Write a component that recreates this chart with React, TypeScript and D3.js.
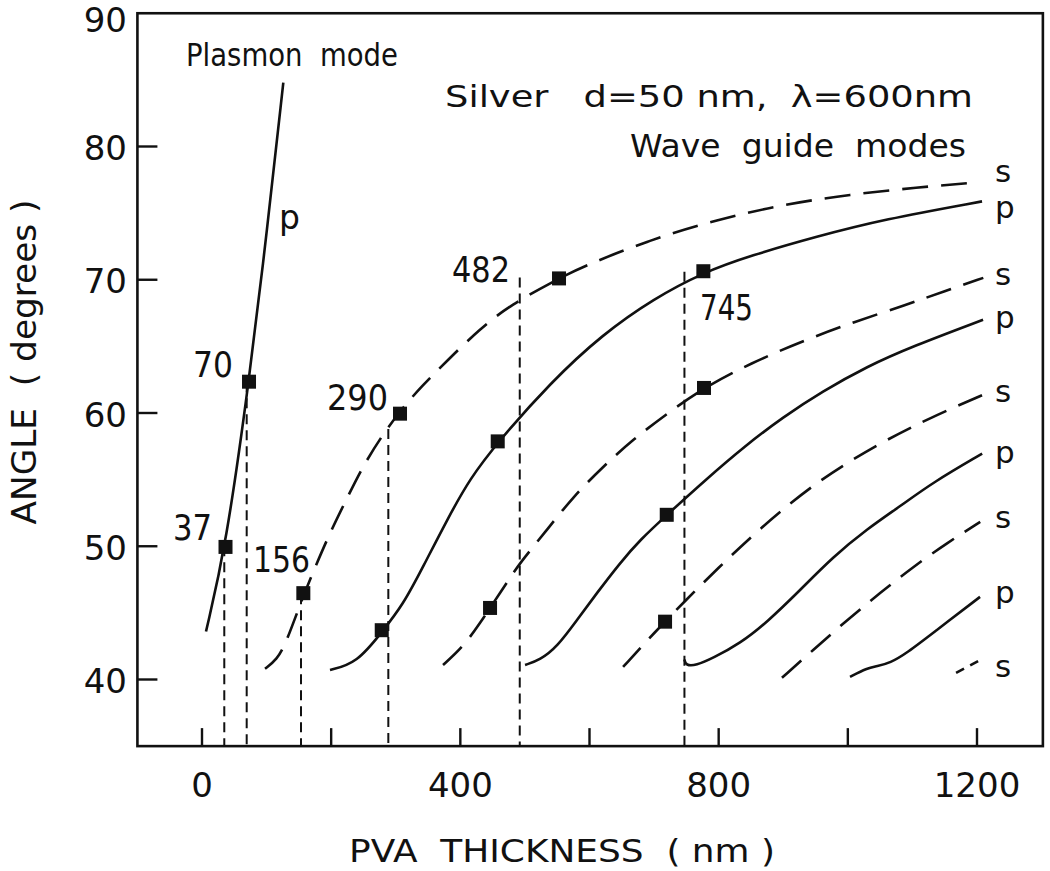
import React from 'react';
import * as d3 from 'd3';

type Pt = [number, number];

// ---- axes ----
const xTicks = [0, 200, 400, 600, 800, 1000, 1200];
const xTickLabels = [0, 400, 800, 1200];
const yTicks = [40, 50, 60, 70, 80];
const yTickLabels = [40, 50, 60, 70, 80, 90];
const xTitle = 'PVA  THICKNESS  ( nm )';
const yTitle = 'ANGLE  ( degrees )';

// ---- curves: [thickness nm, angle deg] ----
const plasmonP: Pt[] = [[6.2, 43.6], [37, 50.0], [72.8, 62.35], [100, 73.4], [125.9, 84.8]];

const s1: Pt[] = [[97.6, 40.8], [116, 41.5], [130, 42.7], [156, 46.2], [175, 48.4], [198, 51.0], [224.5, 53.6], [249, 56.0], [280, 58.4], [310, 60.35], [340, 62.0], [380, 63.95], [430, 66.3], [477, 68.1], [552.8, 70.1], [590, 71.0], [693.7, 73.0], [797.5, 74.5], [899.7, 75.65], [1003.4, 76.4], [1107.2, 76.93], [1200, 77.3]];

const p1: Pt[] = [[198.2, 40.71], [240, 41.24], [278.7, 43.57], [311.2, 45.6], [342.2, 48.45], [379.4, 51.98], [415, 55.1], [458.4, 57.84], [540, 62.3], [620, 65.9], [700, 68.6], [775.8, 70.54], [848.6, 71.8], [952.3, 73.25], [1054.5, 74.52], [1207.8, 75.88]];

const s2: Pt[] = [[373.2, 41.09], [404.2, 42.44], [430.5, 44.24], [446, 45.37], [476.9, 47.63], [492.4, 48.75], [534.2, 51.23], [574.5, 53.71], [620.9, 55.97], [667, 58.0], [720, 59.95], [777, 61.9], [850, 63.75], [930, 65.4], [1010, 66.85], [1090, 68.1], [1150, 69.15], [1209.8, 70.14]];

const p2: Pt[] = [[500.2, 41.09], [523.4, 41.47], [549.7, 42.44], [580.7, 44.47], [611.6, 46.5], [647.3, 48.75], [678.3, 50.48], [720, 52.36], [780, 55.0], [840, 57.5], [900, 59.7], [960, 61.6], [1030, 63.5], [1100, 65.0], [1209.4, 67.0]];

const s3: Pt[] = [[652, 40.94], [700, 43.5], [750, 46.0], [800, 48.4], [850, 50.7], [900, 52.8], [950, 54.7], [1000, 56.3], [1060, 58.0], [1130, 59.7], [1209.4, 61.37]];

const p3: Pt[] = [[747, 41.5], [749, 41.05], [765, 41.05], [791, 41.6], [833, 42.7], [875, 44.3], [926, 46.7], [977, 49.2], [1030, 51.3], [1081, 53.0], [1132, 54.8], [1208, 56.95]];

const s4: Pt[] = [[898, 40.13], [946, 42.2], [999, 44.47], [1050, 46.5], [1101, 48.45], [1154, 50.26], [1205, 51.83]];

const p4: Pt[] = [[1003.4, 40.2], [1029.7, 40.86], [1045, 41.0], [1065.4, 41.24], [1091.7, 42.0], [1132, 43.5], [1204.7, 46.2]];

const s5: Pt[] = [[1167.6, 40.49], [1203, 41.41]];

// ---- markers & drop lines ----
const markers: Pt[] = [[36.4, 49.95], [72.8, 62.35], [156.9, 46.48], [306.6, 59.95], [278.3, 43.7], [457.9, 57.87], [446, 45.37], [552.8, 70.1], [776.3, 70.64], [777.3, 61.88], [719.6, 52.36], [717, 44.34]];
const dropX = [34.5, 69.2, 153.3, 288.5, 492, 747];
const dropTop = [50.0, 62.3, 46.4, 58.8, 70.17, 70.6];

// ---- number labels (thickness values) ----
const numText = ['37', '70', '156', '290', '482', '745'];
const numX = [-44.9, -13.9, 79.0, 193.6, 387.1, 771.1];
const numY = [50.47, 62.7, 48.07, 60.22, 69.83, 66.97];
const numW = [39, 40, 57, 61, 58, 53];

// ---- mode labels at right ----
const modeText = ['s', 'p', 's', 'p', 's', 'p', 's', 'p', 's'];
const modeY = [77.37, 74.6, 69.64, 66.41, 60.85, 56.27, 51.38, 45.74, 40.19];
const modeX = 1228;

type Style = 'solid' | 'dash' | 'short';
const curves: { pts: Pt[]; style: Style }[] = [
  { pts: plasmonP, style: 'solid' },
  { pts: s1, style: 'dash' },
  { pts: p1, style: 'solid' },
  { pts: s2, style: 'dash' },
  { pts: p2, style: 'solid' },
  { pts: s3, style: 'dash' },
  { pts: p3, style: 'solid' },
  { pts: s4, style: 'dash' },
  { pts: p4, style: 'solid' },
  { pts: s5, style: 'short' },
];

const FONT = "'DejaVu Sans', sans-serif";
const INK = '#111';
const PRE: React.CSSProperties = { whiteSpace: 'pre' };

export default function App() {
  const x = d3.scaleLinear().domain([0, 1200]).range([202, 977]);
  const y = d3.scaleLinear().domain([40, 80]).range([679.5, 146.5]);
  const X0 = x(-100), X1 = x(1302), Y0 = y(35), Y1 = y(90);

  const line = d3
    .line<Pt>()
    .x((d) => x(d[0]))
    .y((d) => y(d[1]))
    .curve(d3.curveBasis);

  const dashOf = (s: Style) => (s === 'dash' ? '26,13' : s === 'short' ? '9,7' : undefined);
  const M = 14;

  return (
    <svg
      width={1050}
      height={871}
      style={{ position: 'absolute', left: 0, top: 0, background: '#fff' }}
      fontFamily={FONT}
    >
      <rect x={0} y={0} width={1050} height={871} fill="#fff" />
      {/* frame */}
      <rect x={X0} y={Y1} width={X1 - X0} height={Y0 - Y1} fill="none" stroke={INK} strokeWidth={2.6} />
      {/* ticks */}
      {yTicks.map((t) => (
        <line key={'yt' + t} x1={X0} x2={X0 + 20} y1={y(t)} y2={y(t)} stroke={INK} strokeWidth={2.4} />
      ))}
      {xTicks.map((t) => (
        <line key={'xt' + t} x1={x(t)} x2={x(t)} y1={Y0} y2={Y0 - 18} stroke={INK} strokeWidth={2.4} />
      ))}
      {yTickLabels.map((t) => (
        <text key={'yl' + t} x={127} y={y(t) + (t === 90 ? 19 : 13.5)} textAnchor="end" fontSize={34} fill={INK}>
          {t}
        </text>
      ))}
      {xTickLabels.map((t) => (
        <text key={'xl' + t} x={x(t)} y={797} textAnchor="middle" fontSize={34} fill={INK}>
          {t}
        </text>
      ))}
      <text x={349} y={862} fontSize={32} fill={INK} textLength={426} lengthAdjust="spacingAndGlyphs" style={PRE}>
        {xTitle}
      </text>
      <text
        transform={`translate(36, 362) rotate(-90)`}
        textAnchor="middle"
        fontSize={33}
        fill={INK}
        style={PRE}
      >
        <tspan textLength={325} lengthAdjust="spacingAndGlyphs">{yTitle}</tspan>
      </text>

      {/* drop lines */}
      {dropX.map((d, i) => (
        <line
          key={'dl' + i}
          x1={x(d)}
          x2={x(d)}
          y1={y(dropTop[i])}
          y2={Y0}
          stroke={INK}
          strokeWidth={2}
          strokeDasharray="10,6"
        />
      ))}

      {/* curves */}
      {curves.map((c, i) => (
        <path
          key={'c' + i}
          d={line(c.pts) || ''}
          fill="none"
          stroke={INK}
          strokeWidth={2.6}
          strokeDasharray={dashOf(c.style)}
        />
      ))}

      {/* markers */}
      {markers.map((m, i) => (
        <rect key={'m' + i} x={x(m[0]) - M / 2} y={y(m[1]) - M / 2} width={M} height={M} fill={INK} />
      ))}

      {/* number labels */}
      {numText.map((t, i) => (
        <text
          key={'n' + i}
          x={x(numX[i])}
          y={y(numY[i])}
          fontSize={35}
          fill={INK}
          textLength={numW[i]}
          lengthAdjust="spacingAndGlyphs"
        >
          {t}
        </text>
      ))}

      {/* mode labels */}
      {modeText.map((t, i) => (
        <text key={'ml' + i} x={x(modeX)} y={y(modeY[i])} fontSize={31} fill={INK}>
          {t}
        </text>
      ))}

      {/* annotations */}
      <text x={x(-24.8)} y={y(86.04)} fontSize={32} fill={INK} textLength={212} lengthAdjust="spacingAndGlyphs" style={PRE}>
        {'Plasmon  mode'}
      </text>
      <text x={x(119.2)} y={y(73.81)} fontSize={33} fill={INK}>
        p
      </text>
      <text x={x(376.3)} y={y(82.96)} fontSize={31} fill={INK} textLength={528} lengthAdjust="spacingAndGlyphs" style={PRE}>
        {'Silver   d=50 nm,  λ=600nm'}
      </text>
      <text x={x(662.7)} y={y(79.21)} fontSize={32} fill={INK} textLength={336} lengthAdjust="spacingAndGlyphs" style={PRE}>
        {'Wave  guide  modes'}
      </text>
    </svg>
  );
}
